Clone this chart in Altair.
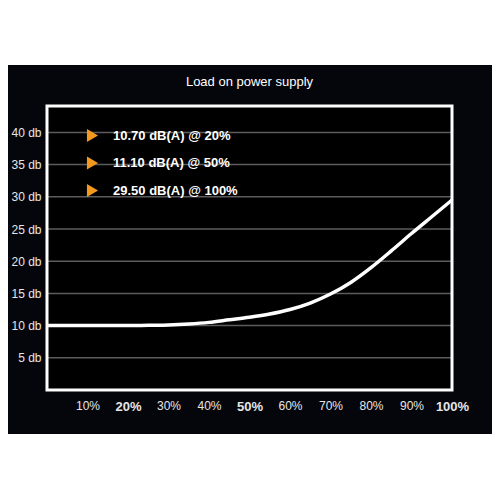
import altair as alt
import pandas as pd

# ---- data ----
load_pct = [0, 5, 10, 15, 20, 25, 30, 35, 40, 45, 50, 55, 60, 65, 70, 75, 80, 85, 90, 95, 100]
noise_db = [10.0, 10.0, 10.0, 10.0, 10.0, 10.05, 10.1, 10.25, 10.5, 10.9, 11.3, 11.8, 12.5, 13.5,
            14.9, 16.7, 19.0, 21.6, 24.3, 26.9, 29.5]
y_ticks = [5, 10, 15, 20, 25, 30, 35, 40]
x_ticks = [10, 20, 30, 40, 50, 60, 70, 80, 90, 100]
notes = ["10.70 dB(A) @ 20%", "11.10 dB(A) @ 50%", "29.50 dB(A) @ 100%"]
note_x = [20, 50, 100]
note_y = [10.7, 11.1, 29.5]
title_text = "Load on power supply"

W, H = 405, 284
PL, PT, PR, PB = 39, 98, 40, 102
BAND = "#05060b"
ORANGE = "#f39a1e"
FONT = "Liberation Sans"

curve = pd.DataFrame({"load": load_pct, "db": noise_db})
grid = pd.DataFrame({"db": y_ticks})
note_df = pd.DataFrame({"label": notes, "load": note_x, "db": note_y})
one = pd.DataFrame({"k": [0]})

xscale = alt.Scale(domain=[0, 100], nice=False, zero=False)
yscale = alt.Scale(domain=[0, 44.1], nice=False, zero=False)

bold_test = "datum.value == 20 || datum.value == 50 || datum.value == 100"
xaxis = alt.Axis(values=x_ticks, labelExpr="datum.value + '%'", grid=False, ticks=False,
                 domain=False, title=None, labelPadding=10, labelColor="#e6e6e6",
                 labelFont=FONT, zindex=2, labelOverlap=False, labelFlush=False,
                 labelFontSize=alt.expr(bold_test + " ? 13 : 12"),
                 labelFontWeight=alt.expr(bold_test + " ? 'bold' : 'normal'"))
yaxis = alt.Axis(values=y_ticks, labelExpr="datum.value + ' db'", grid=False, ticks=False,
                 domain=False, title=None, labelPadding=6, labelColor="#e6e6e6",
                 labelFont=FONT, labelFontSize=12, zindex=2, labelOverlap=False, labelFlush=False)

band = alt.Chart(one).mark_rect(fill=BAND).encode(
    x=alt.value(-PL), x2=alt.value(W + PR), y=alt.value(65 - 106), y2=alt.value(434 - 106)
)
plot_bg = alt.Chart(one).mark_rect(fill="#000000").encode(
    x=alt.value(0), x2=alt.value(W), y=alt.value(0), y2=alt.value(H)
)
title = alt.Chart(one).mark_text(color="white", font=FONT, fontSize=13, align="center",
                                 baseline="middle").encode(
    x=alt.value(W / 2), y=alt.value(82 - 106), text=alt.value(title_text)
)
rules = alt.Chart(grid).mark_rule(color="#5c5c5c", strokeWidth=1.5).encode(
    y=alt.Y("db:Q", scale=yscale, axis=yaxis)
)
line = alt.Chart(curve).mark_line(color="white", strokeWidth=3.5, interpolate="monotone").encode(
    x=alt.X("load:Q", scale=xscale, axis=xaxis),
    y=alt.Y("db:Q", scale=yscale, axis=yaxis),
)
frame = alt.Chart(one).mark_rect(fill="transparent", stroke="white", strokeWidth=3).encode(
    x=alt.value(0), x2=alt.value(W), y=alt.value(0), y2=alt.value(H)
)
pts = alt.Chart(note_df).mark_point(filled=True, shape="triangle-right", opacity=0).encode(
    x=alt.X("load:Q", scale=xscale, axis=xaxis),
    y=alt.Y("db:Q", scale=yscale, axis=yaxis),
    color=alt.Color("label:N", scale=alt.Scale(domain=notes, range=[ORANGE] * 3),
                    legend=alt.Legend(orient="none", legendX=39, legendY=23, title=None,
                                      symbolType="triangle-right", symbolSize=165,
                                      symbolOpacity=1, symbolFillColor=ORANGE, symbolStrokeWidth=0,
                                      labelColor="white", labelFont=FONT, labelFontWeight="bold",
                                      labelFontSize=13, labelOffset=14, rowPadding=13.5, padding=0,
                                      labelLimit=300, zindex=2)),
)

chart = alt.layer(band, plot_bg, title, rules, line, frame, pts).properties(
    width=W, height=H,
    autosize=alt.AutoSizeParams(type="none"),
    padding={"left": PL, "top": PT, "right": PR, "bottom": PB},
    background="white",
).configure_view(stroke=None).configure_legend(labelFontSize=13, labelFont=FONT)

chart.save("out.html", embed_options={"renderer": "svg", "actions": False})
